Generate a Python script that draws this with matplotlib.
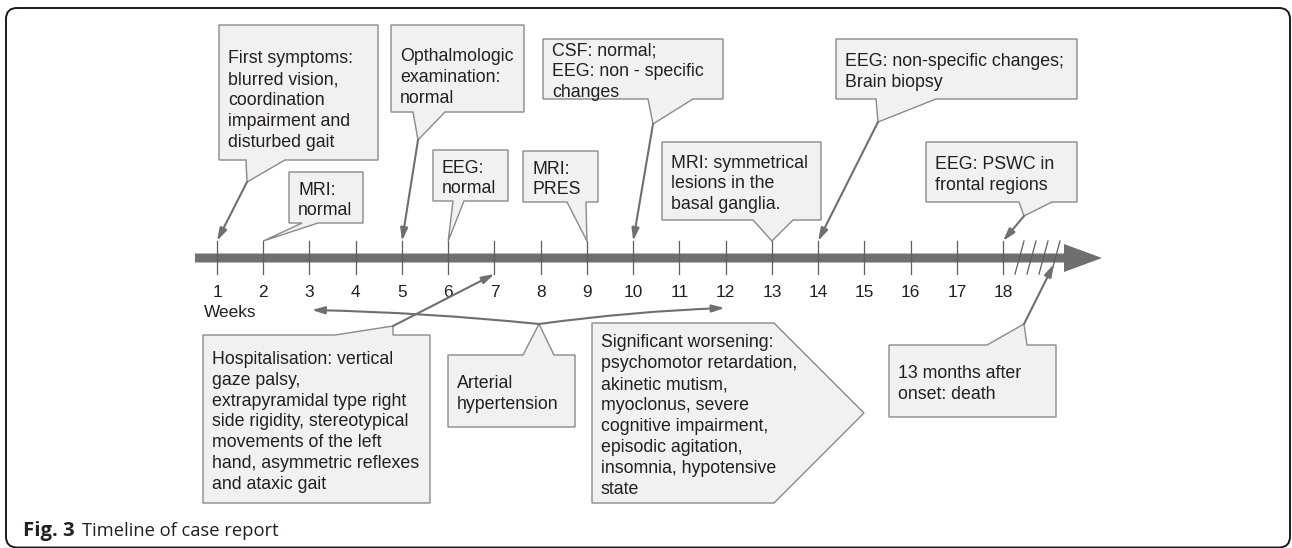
import matplotlib
matplotlib.use("Agg")
import matplotlib.pyplot as plt
from matplotlib.patches import Polygon, FancyBboxPatch

# ---------------- data ----------------
weeks = list(range(1, 19))
week_labels = [str(w) for w in weeks]
axis_label = "Weeks"

events_above = [
    ("First symptoms:\nblurred vision,\ncoordination\nimpairment and\ndisturbed gait", 1),
    ("MRI:\nnormal", 2),
    ("Opthalmologic\nexamination:\nnormal", 5),
    ("EEG:\nnormal", 6),
    ("MRI:\nPRES", 9),
    ("CSF: normal;\nEEG: non - specific\nchanges", 10),
    ("MRI: symmetrical\nlesions in the\nbasal ganglia.", 13),
    ("EEG: non-specific changes;\nBrain biopsy", 14),
    ("EEG: PSWC in\nfrontal regions", 18),
]
hosp_text = ("Hospitalisation: vertical\ngaze palsy,\nextrapyramidal type right\n"
             "side rigidity, stereotypical\nmovements of the left\n"
             "hand, asymmetric reflexes\nand ataxic gait")
hosp_week = 7
hyper_text = "Arterial\nhypertension"
hyper_weeks = [3, 12]
worse_text = ("Significant worsening:\npsychomotor retardation,\nakinetic mutism,\n"
              "myoclonus, severe\ncognitive impairment,\nepisodic agitation,\n"
              "insomnia, hypotensive\nstate")
death_text = "13 months after\nonset: death"
caption_bold = "Fig. 3"
caption_rest = "Timeline of case report"

# ---------------- layout ----------------
W_PX, H_PX = 1292, 548
X0, DX = 217.0, 46.24          # pixel position of week 1 and pixels per week


def wk(px):
    return 1 + (px - X0) / DX


FONT = "Liberation Sans"
TXT = "#231f20"
FILL = "#f0f1f0"
EDGE = "#8a8a8a"
GREY = "#6f6f6f"
FS = 12.8
LS = 1.3

fig = plt.figure(figsize=(W_PX / 100, H_PX / 100), dpi=100)
lay = fig.add_axes([0, 0, 1, 1])
lay.set_xlim(0, W_PX)
lay.set_ylim(H_PX, 0)
lay.axis("off")
ax = fig.add_axes([0, 0, 1, 1])
ax.set_xlim(wk(0), wk(W_PX))
ax.set_ylim(H_PX, 0)
ax.axis("off")
ax.patch.set_alpha(0)

# outer rounded frame
lay.add_patch(FancyBboxPatch((6, 8), 1284, 539.5, boxstyle="round,pad=0,rounding_size=11",
                             fc="none", ec="#1a1a1a", lw=1.4))

# caption
lay.text(23, 536, caption_bold, fontsize=14.6, fontweight="bold", family="Open Sans",
         color=TXT, va="baseline", ha="left")
lay.text(82, 536, caption_rest, fontsize=13.2, family="Open Sans",
         color=TXT, va="baseline", ha="left")

# ---------------- timeline axis ----------------
y_bar = 258
bar_start, head_back, head_tip = wk(195), wk(1064), wk(1102)
ax.add_patch(Polygon([(bar_start, y_bar - 4.5), (head_back, y_bar - 4.5), (head_back, y_bar - 14),
                      (head_tip, y_bar), (head_back, y_bar + 14), (head_back, y_bar + 4.5),
                      (bar_start, y_bar + 4.5)], closed=True, fc=GREY, ec="none", zorder=2))
TICK_TOP, TICK_BOT = 241, 274
for w, lab in zip(weeks, week_labels):
    ax.plot([w, w], [TICK_TOP, TICK_BOT], color="#5e5e5e", lw=0.9, zorder=3)
    ax.text(w, 297, lab, ha="center", va="baseline", fontsize=12.4, family=FONT, color=TXT)
ax.text(wk(204), 317, axis_label, ha="left", va="baseline", fontsize=12.4, family=FONT, color=TXT)
# break marks after week 18
for i in range(4):
    b = 1015 + 12 * i
    ax.plot([wk(b), wk(b + 9)], [TICK_BOT, TICK_TOP], color="#5e5e5e", lw=0.9, zorder=3)

ARROW = dict(arrowstyle="-|>,head_length=0.75,head_width=0.22", color=GREY, lw=1.5,
             shrinkA=0, shrinkB=0, mutation_scale=10)


def callout(L, T, R, B, base, tip, side, text, dy=3):
    b1, b2 = base
    if side == "bottom":
        pts = [(L, T), (R, T), (R, B), (b2, B), tip, (b1, B), (L, B)]
    else:
        pts = [(L, T), (b1, T), tip, (b2, T), (R, T), (R, B), (L, B)]
    ax.add_patch(Polygon([(wk(x), y) for x, y in pts], closed=True, fc=FILL, ec=EDGE,
                         lw=1.0, zorder=4, joinstyle="miter"))
    ax.text(wk(L + 9), (T + B) / 2 + dy, text, ha="left", va="center",
            fontsize=FS, family=FONT, color=TXT, linespacing=LS, zorder=5)


def arrow(tip, week, y, rad=0.0):
    ax.annotate("", xy=(week, y), xytext=(wk(tip[0]), tip[1]),
                arrowprops=dict(ARROW, connectionstyle=f"arc3,rad={rad}"), zorder=6)


# box geometry: (L, T, R, B, tail base, tail tip, arrow?, text shift)
above_layout = [
    (219, 25, 378, 160, (246, 285), (247, 182), True, 8),
    (289, 172, 363, 223, (302, 318), None, False, 3),
    (391, 25, 524, 112, (413, 445), (418, 140), True, 9),
    (433, 150, 508, 201, (453, 464), None, False, 3),
    (523, 151, 598, 202, (567, 586), None, False, 3),
    (543, 39, 723, 99, (648, 693), (653, 124), True, 3),
    (662, 142, 821, 220, (753, 793), None, False, 3),
    (836, 39, 1077, 99, (876, 936), (878, 122), True, 3),
    (926, 142, 1077, 202, (1019, 1052), (1024, 216), True, 3),
]
for (text, week), (L, T, R, B, base, tip, has_arrow, dy) in zip(events_above, above_layout):
    if tip is None:
        tip = (X0 + (week - 1) * DX, TICK_TOP)
    callout(L, T, R, B, base, tip, "bottom", text, dy)
    if has_arrow:
        arrow(tip, week, TICK_TOP)

# hospitalisation
callout(203, 335, 430, 503, (335, 393), (393, 326), "top", hosp_text)
arrow((393, 326), hosp_week, TICK_BOT)

# arterial hypertension with two slightly curved arrows
callout(448, 355, 575, 427, (523, 554), (539, 324), "top", hyper_text)
arrow((539, 324), hyper_weeks[0] + 0.05, 310, rad=0.02)
arrow((539, 324), hyper_weeks[1] - 0.02, 308, rad=-0.025)

# significant worsening (pentagon)
ax.add_patch(Polygon([(wk(x), y) for x, y in [(592, 323), (774, 323), (864, 413), (774, 503), (592, 503)]],
                     closed=True, fc=FILL, ec=EDGE, lw=1.0, zorder=4))
ax.text(wk(601), 416, worse_text, ha="left", va="center", fontsize=FS, family=FONT,
        color=TXT, linespacing=LS, zorder=5)

# death
callout(889, 345, 1056, 417, (987, 1027), (1024, 324), "top", death_text)
arrow((1024, 324), wk(1054), 264)

fig.savefig("out.png", dpi=100)
